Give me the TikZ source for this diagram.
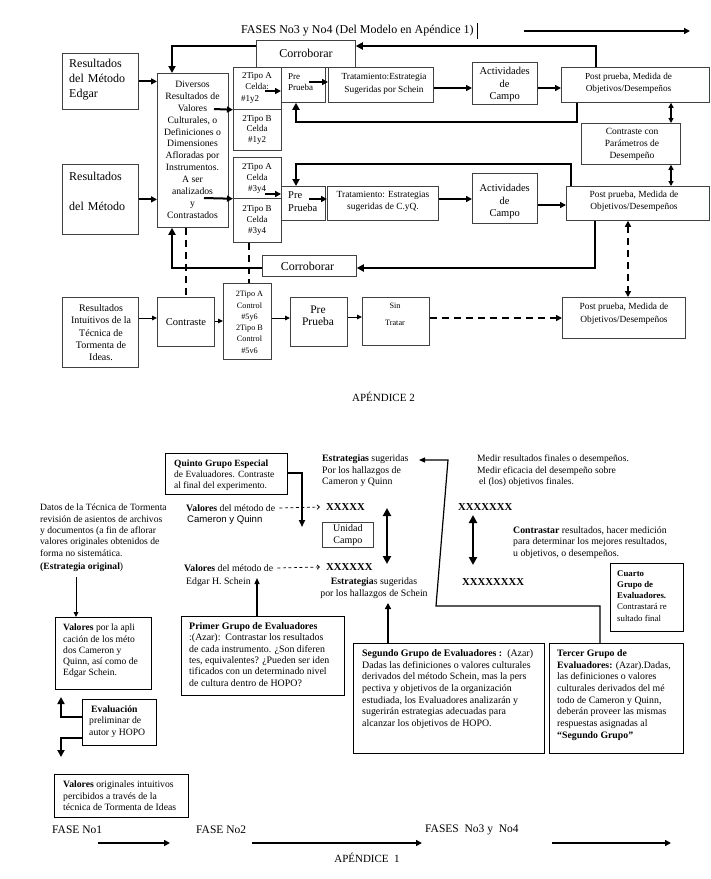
\documentclass[tikz,border=0pt]{standalone}
\usepackage{fontspec}
\setmainfont{Liberation Serif}
\newfontfamily\arialf{Liberation Sans}
\usetikzlibrary{arrows.meta,calc}
\newcommand{\fsz}[2]{\fontsize{#1}{#2}\selectfont}
\begin{document}
\begin{tikzpicture}[x=1pt,y=-1pt,
  box/.style={draw=black!75, line width=0.75pt, inner sep=0pt, anchor=north west},
  bbox/.style={draw=black, line width=0.9pt, inner sep=0pt, anchor=north west},
  txt/.style={inner sep=0pt, align=center},
  ltxt/.style={inner sep=0pt, align=left, anchor=west},
  thk/.style={line width=2pt, -{Triangle[length=6pt,width=6pt]}},
  fata/.style={line width=2.6pt, -{Triangle[length=7pt,width=7pt]}},
  thinar/.style={line width=0.9pt, -{Triangle[length=5pt,width=4.5pt]}},
  thindbl/.style={line width=1.1pt, {Triangle[length=5pt,width=5pt]}-{Triangle[length=5pt,width=5pt]}},
  dbl/.style={line width=2.8pt, {Triangle[length=8pt,width=8pt]}-{Triangle[length=8pt,width=8pt]}},
  dsh/.style={line width=2.2pt, dash pattern=on 7pt off 5pt},
  sdash/.style={line width=0.7pt, dash pattern=on 3pt off 2.5pt, -{Straight Barb[length=2.5pt,width=4.5pt]}},
]
\fill[white] (0,0) rectangle (711,879);
\useasboundingbox (0,0) rectangle (711,879);

% ---------------- TOP (APENDICE 2) ----------------
\node[txt, anchor=west, font=\fsz{12}{14}] (title) at (241,31) {FASES No3 y No4 (Del Modelo en Apéndice 1)};
\draw[line width=0.6pt] ([xshift=3pt,yshift=8pt]title.east) -- ([xshift=3pt,yshift=-8pt]title.east);
\coordinate (ta1) at (524,31); \coordinate (ta2) at (690,31);
\draw[thk] (ta1) -- (ta2);

\node[box, minimum width=76pt, minimum height=56pt] (edgar) at (62,53) {};
\node[ltxt, text width=62pt, font=\fsz{12}{15}] at (69,80) {Resultados\\del Método\\Edgar};
\node[box, minimum width=76pt, minimum height=70pt] (metodo) at (62,164) {};
\node[ltxt, text width=62pt, font=\fsz{12}{15}] at (69,191.4) {Resultados\\[14.3pt]del Método};

\node[box, minimum width=71pt, minimum height=154pt] (diversos) at (157,73) {};
\node[txt, font=\fsz{9.7}{11.88}] at (192.5,149.7) {Diversos\\Resultados de\\Valores\\Culturales, o\\Definiciones o\\Dimensiones\\Afloradas por\\Instrumentos.\\A ser\\analizados\\y\\Contrastados};

\node[box, minimum width=48pt, minimum height=42pt] (tipo1a) at (233,67) {};
\node[box, minimum width=48pt, minimum height=41pt] (tipo1b) at (233,109) {};
\node[box, minimum width=48pt, minimum height=41pt] (tipo3a) at (233,157) {};
\node[box, minimum width=48pt, minimum height=44pt] (tipo3b) at (233,198) {};
\node[txt, font=\fsz{9}{11.2}] at (257,87.8) {2Tipo A\\Celda:\\\#1y2\hspace*{14pt}};
\node[txt, font=\fsz{9}{10.5}] at (257,129.5) {2Tipo B\\Celda\\\#1y2};
\node[txt, font=\fsz{9}{10.9}] at (257,178.2) {2Tipo A\\Celda\\\#3y4};
\node[txt, font=\fsz{9}{11.2}] at (257,220.5) {2Tipo B\\Celda\\\#3y4};

\node[box, minimum width=44pt, minimum height=35pt] (pre1) at (281,67) {};
\node[ltxt, font=\fsz{9}{11}] at (288,82.2) {Pre\\Prueba};
\node[box, minimum width=105pt, minimum height=35pt] (trat1) at (328,67) {};
\node[txt, font=\fsz{9.3}{12.3}] at (384,83.9) {Tratamiento:Estrategia\\Sugeridas por Schein};
\node[box, minimum width=65pt, minimum height=42pt] (act1) at (472,62) {};
\node[txt, font=\fsz{10.5}{12.5}] at (504.7,84.8) {Actividades\\de\\Campo};
\node[box, minimum width=148pt, minimum height=35pt] (post1) at (561,67) {};
\node[txt, font=\fsz{9.2}{11.6}] at (628.5,83.5) {Post prueba, Medida de\\Objetivos/Desempeños};
\node[box, minimum width=99pt, minimum height=27pt] (corr1) at (256,40) {};
\node[txt, font=\fsz{12}{14}] at (306,53) {Corroborar};
\node[box, minimum width=99pt, minimum height=41pt] (contr) at (581,123) {};
\node[txt, font=\fsz{9.5}{12.2}] at (632,144.5) {Contraste con\\Parámetros de\\Desempeño};

\node[box, minimum width=44pt, minimum height=34pt] (pre2) at (281,186) {};
\node[ltxt, font=\fsz{10.5}{13.3}] at (288,201.7) {Pre\\Prueba};
\node[box, minimum width=111pt, minimum height=34pt] (trat2) at (327,186) {};
\node[txt, font=\fsz{9.4}{12}] at (383,201.7) {Tratamiento: Estrategias\\sugeridas de C.yQ.};
\node[box, minimum width=65pt, minimum height=50pt] (act2) at (472,173) {};
\node[txt, font=\fsz{10.5}{12.5}] at (504.7,201.5) {Actividades\\de\\Campo};
\node[box, minimum width=143pt, minimum height=34pt] (post2) at (566,186) {};
\node[txt, font=\fsz{9.4}{11.7}] at (634,200.9) {Post prueba, Medida de\\Objetivos/Desempeños};
\node[box, minimum width=94pt, minimum height=21pt] (corr2) at (262,255) {};
\node[txt, font=\fsz{12}{14}] at (307.5,266) {Corroborar};

% row 3
\node[box, minimum width=76pt, minimum height=70pt] (intu) at (62,297) {};
\node[txt, font=\fsz{10}{12.25}] at (101,332.8) {Resultados\\Intuitivos de la\\Técnica de\\Tormenta de\\Ideas.};
\node[box, minimum width=57pt, minimum height=49pt] (contra3) at (157,297) {};
\node[txt, font=\fsz{10.5}{12}] at (186,321.7) {Contraste};
\node[box, minimum width=48pt, minimum height=76pt] (tipo56) at (223,283) {};
\node[txt, font=\fsz{8.2}{11.3}] at (249.5,322.3) {2Tipo A\\Control\\\#5y6\\2Tipo B\\Control\\\#5v6};
\node[box, minimum width=57pt, minimum height=49pt] (pre3) at (290,297) {};
\node[txt, font=\fsz{11.5}{11.7}] at (318,315.8) {Pre\\Prueba};
\node[box, minimum width=67pt, minimum height=48pt] (sin) at (362,297) {};
\node[txt, font=\fsz{8.2}{16.7}] at (395,314.3) {Sin\\Tratar};
\node[box, minimum width=123pt, minimum height=41pt] (post3) at (562,297) {};
\node[txt, font=\fsz{9.4}{12.7}] at (624,313.7) {Post prueba, Medida de\\Objetivos/Desempeños};

\node[txt, anchor=east, font=\fsz{11}{13}] at (415,397) {APÉNDICE 2};

% connectors top
\draw[thk] (edgar.east) -- (edgar.east -| diversos.west);
\draw[thk] (metodo.east) -- (metodo.east -| diversos.west);
\coordinate (d1) at (214,109); \draw[thk] (d1) -- (tipo1a.south west);
\coordinate (d2) at (204,198); \draw[thk] (d2) -- (tipo3a.south west);
\coordinate (t1) at (265,91); \draw[thk] (t1) -- (t1 -| pre1.west);
\coordinate (p1) at (309,82); \draw[thk] (p1) -- (p1 -| trat1.west);
\coordinate (r1) at (0,88);
\draw[thk] (trat1.east |- r1) -- (act1.west |- r1);
\draw[thk] (act1.east |- r1) -- (post1.west |- r1);
\coordinate (t2) at (265,194); \draw[thk] (t2) -- (t2 -| pre2.west);
\coordinate (p2) at (309,199); \draw[thk] (p2) -- (p2 -| trat2.west);
\coordinate (r2) at (0,199); \draw[thk] (trat2.east |- r2) -- (act2.west |- r2);
\coordinate (r3) at (0,205); \draw[thk] (act2.east |- r3) -- (post2.west |- r3);

\coordinate (y46) at (0,46); \coordinate (x596) at (596,0); \coordinate (x172) at (172,0);
\draw[fata] (x596 |- post1.north) -- (x596 |- y46) -- (corr1.east |- y46);
\draw[fata] (corr1.west |- y46) -- (x172 |- y46) -- (x172 |- diversos.north);
\coordinate (y122) at (0,122); \coordinate (x577) at (577,0); \coordinate (x296) at (296,0);
\draw[fata] (x577 |- post1.south) -- (x577 |- y122) -- (x296 |- y122) -- (x296 |- pre1.south);
\coordinate (y164) at (0,164); \coordinate (x571) at (571,0);
\draw[fata] (x571 |- post2.north) -- (x571 |- y164) -- (x296 |- y164) -- (x296 |- pre2.north);
\coordinate (y268) at (0,268); \coordinate (x595) at (595,0);
\draw[fata] (x595 |- post2.south) -- (x595 |- y268) -- (corr2.east |- y268);
\draw[fata] (corr2.west |- y268) -- (x172 |- y268) -- (x172 |- diversos.south);

\coordinate (x671) at (671,0);
\draw[thindbl] (x671 |- post1.south) -- (x671 |- contr.north);
\draw[thindbl] (x671 |- contr.south) -- (x671 |- post2.north);

\coordinate (x186) at (186,0); \draw[dsh] (x186 |- diversos.south) -- (x186 |- contra3.north);
\coordinate (x249) at (249,0); \draw[dsh] (x249 |- tipo3b.south) -- (x249 |- tipo56.north);
\coordinate (x628) at (628,0);
\draw[dsh, {Triangle[length=6pt,width=6pt]}-{Triangle[length=6pt,width=6pt]}] (x628 |- post2.south) -- (x628 |- post3.north);

\coordinate (y318) at (0,318); \coordinate (y321) at (0,321); \coordinate (y317) at (0,317);
\draw[thinar] (intu.east |- y318) -- (contra3.west |- y318);
\draw[thinar] (contra3.east |- y321) -- (tipo56.west |- y321);
\draw[thinar] (tipo56.east |- y318) -- (pre3.west |- y318);
\draw[thinar] (pre3.east |- y317) -- (sin.west |- y317);
\draw[dsh, -{Triangle[length=6pt,width=6pt]}] (sin.east |- y318) -- (post3.west |- y318);

% ---------------- BOTTOM (APENDICE 1) ----------------
\node[bbox, minimum width=122pt, minimum height=41pt] (quinto) at (165,453) {};
\node[ltxt, font=\fsz{9.5}{11.2}] at (174,475) {\textbf{Quinto Grupo Especial}\\de Evaluadores. Contraste\\al final del experimento.};
\coordinate (q0) at (0,473); \coordinate (q1) at (302,527);
\draw[line width=2pt, -{Triangle[length=7pt,width=6pt]}] (quinto.east |- q0) -- (q1 |- q0) -- (q1);

\node[ltxt, font=\fsz{9.6}{11.4}] (datos) at (40,538) {Datos de la Técnica de Tormenta\\revisión de asientos de archivos\\y documentos (a fin de aflorar\\valores originales obtenidos de\\forma no sistemática.\\[2.3pt]\textbf{(Estrategia original})};
\coordinate (e1) at (76,577);
\node[bbox, minimum width=96pt, minimum height=72pt] (valores) at (55,617) {};
\draw[thinar] (e1) -- (e1 |- valores.north);
\node[ltxt, font=\fsz{9.6}{11.3}] at (63,651) {\textbf{Valores} por la apli\\cación de los méto\\dos Cameron y\\Quinn, así como de\\Edgar Schein.};
\node[bbox, minimum width=74pt, minimum height=46pt] (evalua) at (82,699) {};
\node[ltxt, font=\fsz{9.7}{11.3}] at (89,721.5) {\hspace*{2pt}\textbf{Evaluación}\\preliminar de\\autor y HOPO};
\coordinate (ev1) at (0,717); \coordinate (ev2) at (0,738); \coordinate (xe) at (61,0);
\coordinate (eu) at (61,697); \coordinate (ed) at (61,757);
\draw[fata] (evalua.west |- ev1) -- (xe |- ev1) -- (eu);
\draw[fata] (evalua.west |- ev2) -- (xe |- ev2) -- (ed);
\node[bbox, minimum width=134pt, minimum height=43pt] (vorig) at (54,774) {};
\node[ltxt, font=\fsz{9.7}{11.5}] at (63,796) {\textbf{Valores} originales intuitivos\\percibidos a través de la\\técnica de Tormenta de Ideas};

\node[ltxt, font=\fsz{9.8}{11}] (vm1) at (186,508) {\textbf{Valores} del método de};
\node[ltxt, font=\arialf\fsz{9.6}{11}] at (187,520) {Cameron y Quinn};
\node[ltxt, font=\bfseries\fsz{10.7}{12}] (x5) at (326,507) {XXXXX};
\draw[sdash] ([xshift=4pt]vm1.east) -- ([xshift=-6pt]x5.west);
\node[ltxt, font=\fsz{9.8}{11}] (vm2) at (184,568) {\textbf{Valores} del método de};
\node[ltxt, font=\fsz{9.8}{11}] (vs) at (186,582) {Edgar H. Schein};
\node[ltxt, font=\bfseries\fsz{10.7}{12}] (x6) at (326,567) {XXXXXX};
\draw[sdash] ([xshift=4pt]vm2.east) -- ([xshift=-6pt]x6.west);

\node[bbox, minimum width=163pt, minimum height=79pt] (primer) at (181,616) {};
\node[ltxt, font=\fsz{9.9}{11.35}] at (189,654.4) {\textbf{Primer Grupo de Evaluadores}\\:(Azar):\ \ Contrastar los resultados\\de cada instrumento. ¿Son diferen\\tes, equivalentes? ¿Pueden ser iden\\tificados con un determinado nivel\\de cultura dentro de HOPO?};
\coordinate (pa) at (257,578);
\draw[line width=1.3pt, -{Triangle[length=6pt,width=5pt]}] (pa |- primer.north) -- (pa);

\node[ltxt, font=\fsz{9.8}{11.5}] (est1) at (322,471) {\textbf{Estrategias} sugeridas\\Por los hallazgos de\\Cameron y Quinn};
\node[box, minimum width=51pt, minimum height=25pt] (unidad) at (322,522) {};
\node[txt, font=\fsz{10}{11.7}] at (unidad.center) {Unidad\\Campo};
\coordinate (da1) at (387,508); \coordinate (da2) at (387,564);
\draw[dbl] (da1) -- (da2);
\node[txt, font=\fsz{9.8}{12.3}] (est2) at (374,588) {\textbf{Estrategia}s sugeridas\\por los hallazgos de Schein};

\node[bbox, minimum width=191pt, minimum height=110pt] (segundo) at (353,643) {};
\node[ltxt, font=\fsz{9.9}{11.7}] at (362,689.2) {\textbf{Segundo Grupo de Evaluadores :}\ \ (Azar)\\Dadas las definiciones o valores culturales\\derivados del método Schein, mas la pers\\pectiva y objetivos de la organización\\estudiada, los Evaluadores analizarán y\\sugerirán estrategias adecuadas para\\alcanzar los objetivos de HOPO.};
\coordinate (sa) at (388,603);
\draw[line width=1.6pt, -{Triangle[length=6pt,width=6pt]}] (sa |- segundo.north) -- (sa);

\node[bbox, minimum width=134pt, minimum height=110pt] (tercer) at (549,643) {};
\node[ltxt, font=\fsz{9.8}{11.7}] at (557,695) {\textbf{Tercer Grupo de}\\\textbf{Evaluadores:} (Azar).Dadas,\\las definiciones o valores\\culturales derivados del mé\\todo de Cameron y Quinn,\\deberán proveer las mismas\\respuestas asignadas al\\\textbf{“Segundo Grupo”}};
\coordinate (tp1) at (600,606); \coordinate (tp2) at (436,606); \coordinate (tp3) at (448,460); \coordinate (tp4) at (419,460);
\draw[line width=1.2pt, -{Triangle[length=6pt,width=5pt]}] (tp1 |- tercer.north) -- (tp1) -- (tp2) -- (tp3) -- (tp4);

\node[ltxt, font=\fsz{9.6}{11.5}] at (477,471) {Medir resultados finales o desempeños.\\Medir eficacia del desempeño sobre\\\hspace*{2pt}el (los) objetivos finales.};
\node[ltxt, font=\bfseries\fsz{10.7}{12}] (x7) at (458,507) {XXXXXXX};
\coordinate (db1) at (473,515); \coordinate (db2) at (473,565);
\draw[dbl] (db1) -- (db2);
\node[ltxt, font=\bfseries\fsz{10.7}{12}] (x8) at (462,582) {XXXXXXXX};
\node[ltxt, font=\fsz{9.8}{11.7}] at (513,542.4) {\textbf{Contrastar} resultados, hacer medición\\para determinar los mejores resultados,\\u objetivos, o desempeños.};
\node[bbox, minimum width=73pt, minimum height=68pt] (cuarto) at (610,563) {};
\node[ltxt, font=\fsz{8.8}{11.25}] at (617,595.8) {\textbf{Cuarto}\\\textbf{Grupo de}\\\textbf{Evaluadores.}\\Contrastará re\\sultado final};

\node[ltxt, font=\fsz{11.5}{13}] (f1) at (52,830) {FASE No1};
\node[ltxt, font=\fsz{11.5}{13}] (f2) at (196,830) {FASE No2};
\node[ltxt, font=\fsz{11.5}{13}] (f3) at (425,830) {FASES\ \ No3 y\ \ No4};
\coordinate (fa1) at (98,843); \coordinate (fb1) at (170,843);
\coordinate (fa2) at (252,843); \coordinate (fb2) at (422,843);
\coordinate (fa3) at (552,843); \coordinate (fb3) at (671,843);
\draw[thk] (fa1) -- (fb1);
\draw[thk] (fa2) -- (fb2);
\draw[thk] (fa3) -- (fb3);
\node[txt, font=\fsz{11}{13}] (ap1) at (367,858) {APÉNDICE\ \ 1};
\end{tikzpicture}
\end{document}
